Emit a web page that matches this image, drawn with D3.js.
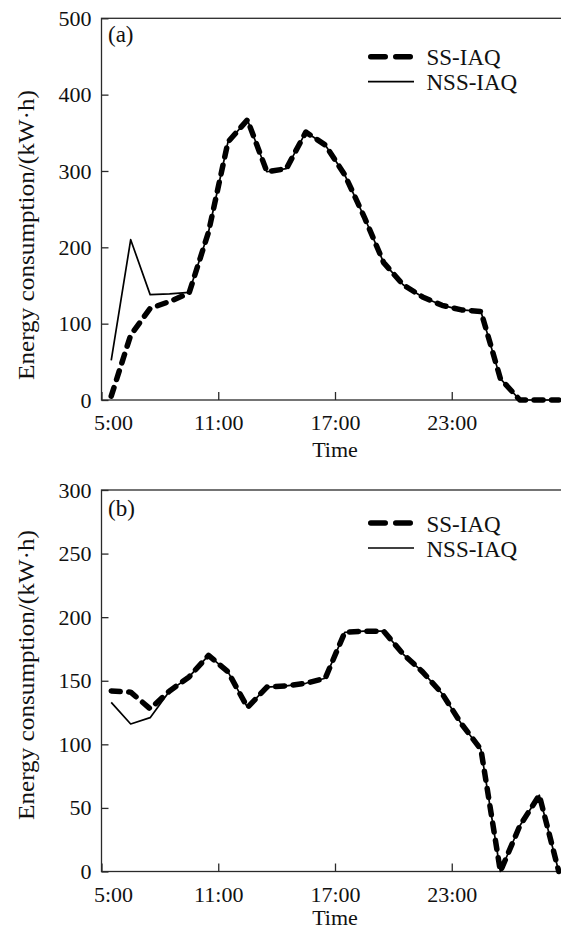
<!DOCTYPE html>
<html>
<head>
<meta charset="utf-8">
<script src="https://cdn.jsdelivr.net/npm/d3@7"></script>
<style>
  html, body { margin: 0; padding: 0; background: #fff; }
  svg { display: block; font-family: "Liberation Serif", "Times New Roman", serif; }
</style>
</head>
<body>
<svg id="chart" width="561" height="931"></svg>
<script>
// Hourly samples, plotted at the middle of each hour (hours past midnight, >24 = next day)
const hours = [5.5, 6.5, 7.5, 8.5, 9.5, 10.5, 11.5, 12.5, 13.5, 14.5, 15.5, 16.5,
               17.5, 18.5, 19.5, 20.5, 21.5, 22.5, 23.5, 24.5, 25.5, 26.5, 27.5, 28.5];

// Panel (a) energy consumption, kW·h
const ssA  = [5, 85, 120, 129, 140, 220, 338, 367, 299, 303, 351, 334,
              295, 240, 180, 151, 135, 124, 118, 116, 28, 0, 0, 0];
const nssA = [52, 210, 138, 139, 141, 220, 338, 367, 299, 303, 351, 334,
              295, 240, 180, 151, 135, 124, 118, 116, 28, 0, 0, 0];

// Panel (b) energy consumption, kW·h
const ssB  = [142, 141, 128, 142, 153, 170, 157, 129, 145, 146, 148, 152,
              188, 189, 189, 171, 157, 140, 116, 96, 0, 36, 60, 0];
const nssB = [133, 116, 121, 142, 153, 170, 157, 129, 145, 146, 148, 152,
              188, 189, 189, 171, 157, 140, 116, 96, 0, 36, 60, 0];

const xTickValues = [5, 11, 17, 23];
const xTickLabels = ["5:00", "11:00", "17:00", "23:00"];
const yTicksA = [0, 100, 200, 300, 400, 500];
const yTicksB = [0, 50, 100, 150, 200, 250, 300];
const seriesNames = ["SS-IAQ", "NSS-IAQ"];
const yTitle = "Energy consumption/(kW·h)";
const xTitle = "Time";

const svg = d3.select("#chart");
const serif = "'Liberation Serif', 'Times New Roman', serif";
const left = 101.5, plotW = 467;
const x = d3.scaleLinear().domain([5, 29]).range([0, plotW]);

function panel(top, height, yTicks, ss, nss, tag, legendDy, titleCy, xTitleDy) {
  const g = svg.append("g").attr("transform", `translate(${left},${top})`);
  const y = d3.scaleLinear().domain([0, d3.max(yTicks)]).range([height, 0]);

  // frame
  g.append("rect").attr("x", 0).attr("y", 0).attr("width", plotW).attr("height", height)
    .attr("fill", "none").attr("stroke", "#2a2a2a").attr("stroke-width", 1.3);

  // left axis, inward ticks
  const ya = g.append("g").call(d3.axisLeft(y).tickValues(yTicks)
      .tickSizeInner(-7).tickSizeOuter(0).tickPadding(10));
  ya.select(".domain").remove();
  ya.selectAll("line").attr("stroke", "#2a2a2a").attr("stroke-width", 1.3);
  ya.selectAll("text").attr("font-size", 22).attr("fill", "#111")
    .attr("font-family", serif);

  // bottom axis, inward ticks
  const xa = g.append("g").attr("transform", `translate(0,${height})`)
    .call(d3.axisBottom(x).tickValues(xTickValues)
      .tickFormat((d, i) => xTickLabels[i]).tickSizeInner(-8).tickSizeOuter(0));
  xa.select(".domain").remove();
  xa.selectAll("line").attr("stroke", "#2a2a2a").attr("stroke-width", 1.3);
  xa.selectAll("text").attr("font-size", 22).attr("fill", "#111")
    .attr("font-family", serif)
    .attr("y", 30).attr("dy", 0);
  // first label nudged right so it clears the "0" of the value axis
  xa.selectAll(".tick text").filter((d, i) => i === 0).attr("dx", 11.5);

  // axis titles
  g.append("text").attr("x", plotW / 2).attr("y", height + xTitleDy)
    .attr("text-anchor", "middle").attr("font-size", 22).attr("fill", "#111").text(xTitle);
  svg.append("text")
    .attr("transform", `translate(33.5,${titleCy}) rotate(-90)`)
    .attr("text-anchor", "middle").attr("font-size", 23).attr("fill", "#111")
    .attr("textLength", 290).attr("lengthAdjust", "spacingAndGlyphs")
    .text(yTitle);

  // panel tag
  g.append("text").attr("x", 6.5).attr("y", tag.y).attr("font-size", 23)
    .attr("fill", "#111").text(tag.text);

  const line = d3.line().x((d, i) => x(hours[i])).y(d => y(d));

  // SS-IAQ: thick dashed
  g.append("path").datum(ss).attr("d", line)
    .attr("fill", "none").attr("stroke", "#000").attr("stroke-width", 5.5)
    .attr("stroke-linecap", "round").attr("stroke-linejoin", "round")
    .attr("stroke-dasharray", "9,8.5");
  // NSS-IAQ: thin solid
  g.append("path").datum(nss).attr("d", line)
    .attr("fill", "none").attr("stroke", "#000").attr("stroke-width", 1.7)
    .attr("stroke-linejoin", "round");

  // legend
  const lg = g.append("g").attr("transform", `translate(0,${legendDy})`);
  lg.append("line").attr("x1", 269.25).attr("x2", 308.75).attr("y1", 0).attr("y2", 0)
    .attr("stroke", "#000").attr("stroke-width", 5.5).attr("stroke-linecap", "round")
    .attr("stroke-dasharray", "14.5,10.5");
  lg.append("text").attr("x", 325).attr("y", 8.5).attr("font-size", 23)
    .attr("fill", "#111").text(seriesNames[0]);
  lg.append("line").attr("x1", 266.5).attr("x2", 312.5).attr("y1", 25).attr("y2", 25)
    .attr("stroke", "#000").attr("stroke-width", 1.7);
  lg.append("text").attr("x", 325).attr("y", 33.5).attr("font-size", 23)
    .attr("fill", "#111").text(seriesNames[1]);
}

panel(18.3, 381.7, yTicksA, ssA, nssA, { text: "(a)", y: 24.2 }, 38.4, 235, 57);
panel(490, 381.5, yTicksB, ssB, nssB, { text: "(b)", y: 25.5 }, 33, 675, 53.5);
</script>
</body>
</html>
